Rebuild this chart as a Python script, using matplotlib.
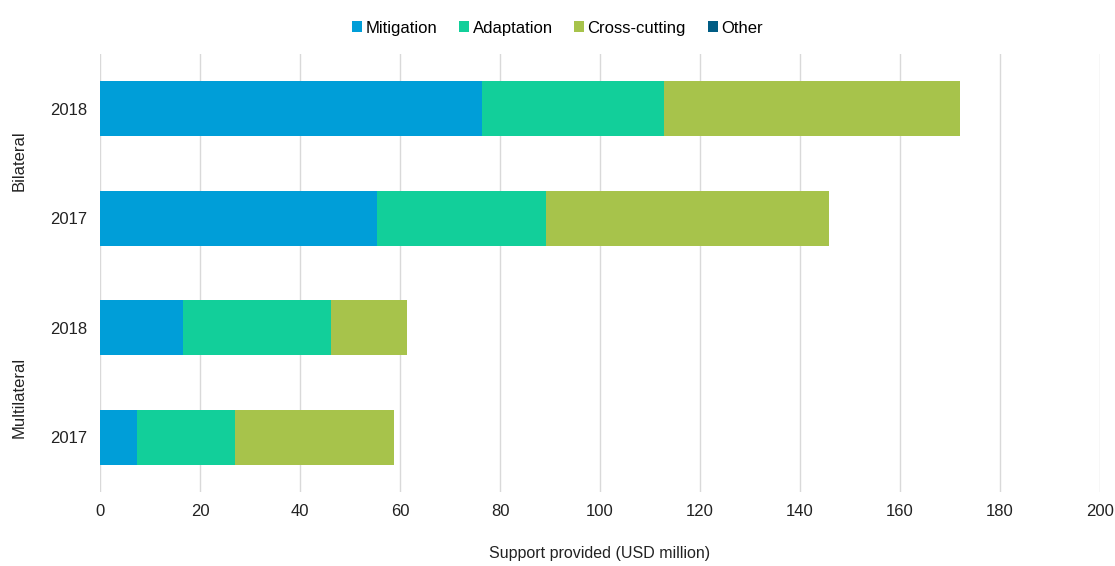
import matplotlib.pyplot as plt
import numpy as np

plt.rcParams['font.family'] = ['Liberation Sans', 'DejaVu Sans']

# rows from top to bottom
years = ['2018', '2017', '2018', '2017']
groups = ['Bilateral', 'Multilateral']
mitigation = [76.3, 55.3, 16.5, 7.3]
adaptation = [36.5, 33.9, 29.6, 19.7]
cross_cutting = [59.1, 56.6, 15.3, 31.9]
other = [0, 0, 0, 0]
xticks = [0, 20, 40, 60, 80, 100, 120, 140, 160, 180, 200]

series = [('Mitigation', mitigation, '#009ed8'),
          ('Adaptation', adaptation, '#12cf9a'),
          ('Cross-cutting', cross_cutting, '#a7c34b'),
          ('Other', other, '#005c84')]

fig = plt.figure(figsize=(11.15, 5.66), dpi=100)
ax = fig.add_axes([100 / 1115, 74 / 566, 1000 / 1115, 438 / 566])

y = np.arange(len(years))
left = np.zeros(len(years))
for name, vals, col in series:
    ax.barh(y, vals, left=left, height=0.5, color=col, label=name, zorder=3)
    left += np.array(vals)

ax.set_ylim(3.5, -0.5)
ax.set_xlim(0, 200)
ax.set_xticks(xticks)
ax.set_yticks(y)
ax.set_yticklabels(years)
ax.tick_params(length=0, labelsize=12, colors='#222222', pad=9)
ax.tick_params(axis='y', pad=9)
ax.grid(axis='x', color='#d9d9d9', linewidth=1, zorder=0)
for s in ax.spines.values():
    s.set_visible(False)

ax.set_xlabel('Support provided (USD million)', fontsize=11.5, color='#222222', labelpad=19)

# group labels (placed as in the original, not exactly centred on the rows)
group_pos = [0.756, 0.217]
for g, gy in zip(groups, group_pos):
    ax.text(-0.081, gy, g, transform=ax.transAxes,
            rotation=90, ha='center', va='center', fontsize=12, color='#222222')

fig.legend(loc='upper center', bbox_to_anchor=(0.5, 0.99), ncol=4, frameon=False,
           fontsize=12, handlelength=0.6, handleheight=0.6, handletextpad=0.2,
           columnspacing=1.3)

fig.savefig('out.png', dpi=100)
